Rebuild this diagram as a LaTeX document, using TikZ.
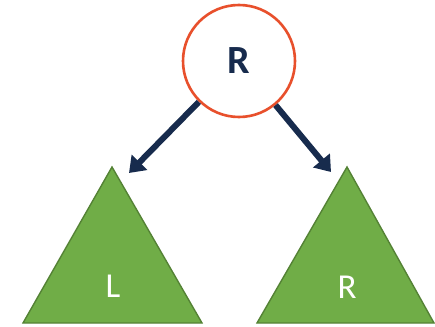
\documentclass[tikz,border=0pt]{standalone}
\usepackage{fontspec}
\setmainfont{Carlito}
\usetikzlibrary{arrows.meta}
\definecolor{navy}{HTML}{172B4D}
\definecolor{rorange}{HTML}{E8502C}
\definecolor{tgreen}{HTML}{70AD47}
\definecolor{tedge}{HTML}{548235}
\tikzset{
  rootnode/.style={circle,draw=rorange,line width=2.6pt,fill=white,minimum size=112pt,inner sep=0pt,text=navy,font=\fontsize{40}{44}\selectfont\bfseries},
  subtree/.style={fill=tgreen,draw=tedge,line width=1.4pt,line join=miter},
  treelabel/.style={text=white,font=\fontsize{35}{40}\selectfont,inner sep=0pt},
  edgearrow/.style={draw=navy,line width=6pt,-{Triangle[length=15pt,width=21pt]}}
}
\begin{document}
\begin{tikzpicture}[x=1pt,y=-1pt]
\useasboundingbox (0,0) rectangle (435,326);
\node[rootnode] (root) at (239,61) {R};
\coordinate (la) at (112,167);
\coordinate (lb) at (23,323);
\coordinate (lc) at (202,323);
\coordinate (ra) at (347,167);
\coordinate (rb) at (257,323);
\coordinate (rc) at (434,323);
\path[subtree] (la) -- (lb) -- (lc) -- cycle;
\path[subtree] (ra) -- (rb) -- (rc) -- cycle;
\node[treelabel] (ltext) at (113,286) {L};
\node[treelabel] (rtext) at (347,287) {R};
\coordinate (ltip) at (129,173);
\coordinate (rtip) at (331,172);
\draw[edgearrow] (root) -- (ltip);
\draw[edgearrow] (root) -- (rtip);
\end{tikzpicture}
\end{document}
